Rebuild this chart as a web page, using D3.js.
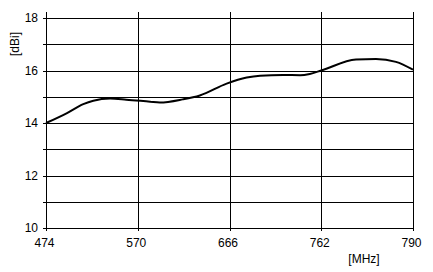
<!DOCTYPE html>
<html>
<head>
<meta charset="utf-8">
<script src="https://cdn.jsdelivr.net/npm/d3@7"></script>
<style>
  body { margin: 0; background: #fff; }
  svg { display: block; font-family: "Liberation Sans", Arial, sans-serif; }
</style>
</head>
<body>
<svg width="433" height="272"></svg>
<script>
const freqTicks = [474, 570, 666, 762, 790];
const gainTicks = [10, 11, 12, 13, 14, 15, 16, 17, 18];
const freq = [474, 496, 513, 523.5, 541, 558, 583, 593, 617, 635, 663, 684, 698, 722, 740, 750, 762, 772.6, 778.7, 784.8, 790];
const gain = [14.0, 14.38, 14.72, 14.85, 14.93, 14.89, 14.81, 14.78, 14.9, 15.05, 15.5, 15.73, 15.8, 15.83, 15.82, 15.87, 16.0, 16.42, 16.44, 16.33, 16.03];

const svg = d3.select('svg');
const plotL = 46, plotR = 413, plotT = 18, plotB = 228;

// ticks are spaced evenly even though the steps differ
const x = d3.scaleLinear()
    .domain(freqTicks)
    .range(freqTicks.map((d, i) => plotL + i * (plotR - plotL) / (freqTicks.length - 1)));
const y = d3.scaleLinear().domain([10, 18]).range([plotB, plotT]);

// horizontal grid
svg.append('g').selectAll('line')
    .data(gainTicks)
    .join('line')
    .attr('x1', plotL - 3)
    .attr('x2', plotR)
    .attr('y1', d => Math.round(y(d)) + 0.5)
    .attr('y2', d => Math.round(y(d)) + 0.5)
    .attr('stroke', '#000')
    .attr('stroke-width', 1);

// vertical grid
svg.append('g').selectAll('line')
    .data(freqTicks)
    .join('line')
    .attr('x1', d => Math.round(x(d)) + 0.5)
    .attr('x2', d => Math.round(x(d)) + 0.5)
    .attr('y1', plotT - 6)
    .attr('y2', plotB + 3)
    .attr('stroke', '#000')
    .attr('stroke-width', 1);

// y labels
svg.append('g').selectAll('text')
    .data(gainTicks.filter(d => d % 2 === 0))
    .join('text')
    .attr('x', 38)
    .attr('y', d => y(d) + 4)
    .attr('text-anchor', 'end')
    .attr('font-size', 12)
    .text(d => d);

// x labels
svg.append('g').selectAll('text')
    .data(freqTicks)
    .join('text')
    .attr('x', d => x(d) - 1.5)
    .attr('y', 247)
    .attr('text-anchor', 'middle')
    .attr('font-size', 12)
    .text(d => d);

svg.append('text')
    .attr('x', 364)
    .attr('y', 263)
    .attr('text-anchor', 'middle')
    .attr('font-size', 12)
    .text('[MHz]');

svg.append('text')
    .attr('transform', 'translate(19,44) rotate(-90)')
    .attr('text-anchor', 'middle')
    .attr('font-size', 12)
    .text('[dBi]');

// gain curve
const line = d3.line()
    .x((d, i) => x(freq[i]))
    .y(d => y(d))
    .curve(d3.curveMonotoneX);

svg.append('path')
    .datum(gain)
    .attr('d', line)
    .attr('fill', 'none')
    .attr('stroke', '#000')
    .attr('stroke-width', 2);
</script>
</body>
</html>
